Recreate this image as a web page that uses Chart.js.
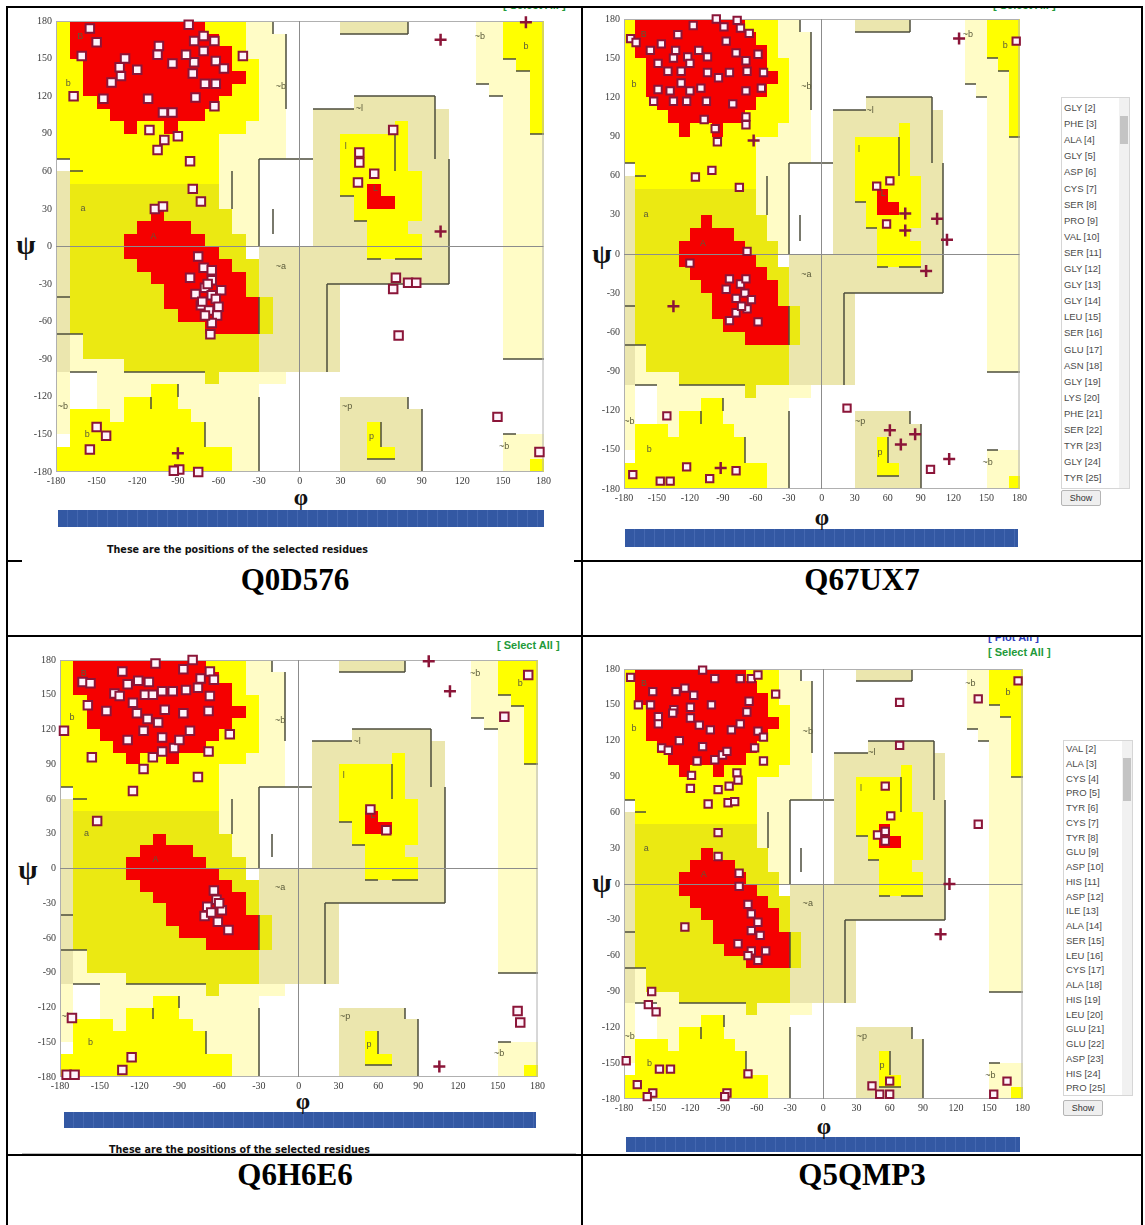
<!DOCTYPE html>
<html>
<head>
<meta charset="utf-8">
<script src="https://cdn.jsdelivr.net/npm/chart.js@4.4.0/dist/chart.umd.min.js"></script>
<style>
  body { margin: 0; background: #fff; }
  #page { position: relative; width: 1145px; height: 1225px; overflow: hidden; font-family: 'Liberation Sans', Arial, sans-serif; }
  .ln { position: absolute; background: #000; }
  .cover { position: absolute; background: #fff; }
  .lbl { position: absolute; font: bold 31px 'Liberation Serif', 'Times New Roman', serif; text-align: center; line-height: 36px; color: #000; }
  .axt { position: absolute; font-family: 'Liberation Serif', 'DejaVu Serif', serif; font-weight: bold; color: #111; text-align: center; }
  .bar { position: absolute; background: repeating-linear-gradient(90deg, #3358a3 0 9px, #4467b0 9px 10px); }
  .note { position: absolute; font: bold 9.6px 'DejaVu Sans', sans-serif; color: #111; white-space: nowrap; }
  .sel { position: absolute; font: bold 11px 'Liberation Sans', Arial, sans-serif; color: #229a3a; white-space: nowrap; }
  .clip { position: absolute; overflow: hidden; }
  .lb { position: absolute; border: 1px solid #d6d6d6; background: #fff; }
  .lb .it { position: absolute; left: 2px; font: 9.5px 'Liberation Sans', Arial, sans-serif; color: #4a4a4a; white-space: nowrap; }
  .lb .sb { position: absolute; right: 0; top: 0; bottom: 0; width: 10px; background: #f1f1f1; }
  .lb .th { position: absolute; right: 1px; width: 8px; background: #c4c4c4; }
  .btn { position: absolute; border: 1px solid #b5b5b5; background: #efefef; border-radius: 2px; font: 9px 'Liberation Sans', Arial, sans-serif; color: #333; text-align: center; }
</style>
</head>
<body>
<div id="page">
  <!-- table rules -->
  <div class="ln" style="left:6px;top:6px;width:1137px;height:2px"></div>
  <div class="ln" style="left:6px;top:560px;width:1137px;height:2px"></div>
  <div class="ln" style="left:6px;top:635px;width:1137px;height:2px"></div>
  <div class="ln" style="left:6px;top:1154px;width:1137px;height:2px"></div>
  <div class="ln" style="left:6px;top:6px;width:2px;height:1230px"></div>
  <div class="ln" style="left:581px;top:6px;width:2px;height:1230px"></div>
  <div class="ln" style="left:1141px;top:6px;width:2px;height:1230px"></div>

  <!-- screenshots that sit over the rules -->
  <div class="cover" style="left:22px;top:8px;width:552px;height:555px"></div>
  <div class="cover" style="left:22px;top:637px;width:554px;height:516px;border-bottom:1px solid #bdbdbd"></div>

  <!-- clipped link text at the top of the first row -->
  <div class="clip" style="left:500px;top:8px;width:76px;height:4px"><div class="sel" style="left:3px;top:-9px">[ Select All ]</div></div>
  <div class="clip" style="left:990px;top:8px;width:76px;height:3px"><div class="sel" style="left:3px;top:-9px">[ Select All ]</div></div>

  <!-- links at the top of the second row -->
  <div class="sel" style="left:497px;top:639px">[ Select All ]</div>
  <div class="clip" style="left:985px;top:637px;width:80px;height:7px"><div class="sel" style="left:3px;top:-6px;color:#2f3fc0">[ Plot All ]</div></div>
  <div class="sel" style="left:988px;top:646px">[ Select All ]</div>

  <!-- sequence bars -->
  <div class="bar" style="left:58px;top:510px;width:486px;height:17px"></div>
  <div class="bar" style="left:625px;top:529px;width:393px;height:18px"></div>
  <div class="bar" style="left:64px;top:1112px;width:472px;height:16px"></div>
  <div class="bar" style="left:626px;top:1137px;width:394px;height:15px"></div>

  <div class="note" style="left:107px;top:544px">These are the positions of the selected residues</div>
  <div class="note" style="left:109px;top:1144px">These are the positions of the selected residues</div>

  <!-- axis symbols -->
  <div class="axt" style="left:286px;top:484px;width:30px;font-size:23px;line-height:28px">φ</div>
  <div class="axt" style="left:807px;top:504px;width:30px;font-size:23px;line-height:28px">φ</div>
  <div class="axt" style="left:288px;top:1088px;width:30px;font-size:23px;line-height:28px">φ</div>
  <div class="axt" style="left:809px;top:1113px;width:30px;font-size:23px;line-height:28px">φ</div>
  <div class="axt" style="left:12px;top:229px;width:28px;font-size:28px;line-height:32px">ψ</div>
  <div class="axt" style="left:588px;top:238px;width:28px;font-size:28px;line-height:32px">ψ</div>
  <div class="axt" style="left:14px;top:854px;width:28px;font-size:28px;line-height:32px">ψ</div>
  <div class="axt" style="left:588px;top:867px;width:28px;font-size:28px;line-height:32px">ψ</div>

  <!-- cell captions -->
  <div class="lbl" style="left:8px;top:562px;width:574px">Q0D576</div>
  <div class="lbl" style="left:583px;top:562px;width:558px">Q67UX7</div>
  <div class="lbl" style="left:8px;top:1157px;width:574px">Q6H6E6</div>
  <div class="lbl" style="left:583px;top:1157px;width:558px">Q5QMP3</div>
</div>

<script>
// ---- axis ticks ----
const angleTicks = [-180, -150, -120, -90, -60, -30, 0, 30, 60, 90, 120, 150, 180];

// ---- region map: [phiFrom, phiTo, psiFrom, psiTo, kind], painted in order ----
const regionColors = { G: '#fffcc6', K: '#ebe6ae', Y: '#ffff00', y: '#ebe912', R: '#f50000', W: '#ffffff' };
const regionRects = [
  // generously allowed, upper left (~b)
  [-180, -20, 170, 180, 'G'], [-180, -10, 70, 170, 'G'],
  // ~b right column
  [130, 180, 130, 180, 'G'], [140, 180, 120, 130, 'G'], [150, 180, -90, 120, 'G'], [150, 180, -180, -150, 'G'],
  // ~a
  [-180, -170, -100, 60, 'K'], [-70, -30, 0, 70, 'G'], [-30, 20, -100, 0, 'K'], [20, 30, -100, -30, 'K'],
  // lower ~b
  [-180, -170, -150, -100, 'G'], [-170, -30, -180, -100, 'G'], [-170, -130, -100, -70, 'G'], [-170, -150, -130, -100, 'W'],
  [-30, 0, -180, -110, 'W'], [-30, -10, -110, -100, 'G'],
  // ~l and ~p
  [10, 110, -30, 110, 'K'], [40, 100, 110, 120, 'K'], [30, 80, 170, 180, 'K'],
  [30, 80, -180, -120, 'K'], [80, 90, -180, -130, 'K'],
  [-30, 10, 0, 70, 'W'],
  // allowed, b region
  [-180, -40, 150, 180, 'Y'], [-180, -30, 100, 150, 'Y'], [-180, -40, 90, 100, 'Y'], [-180, -60, 70, 90, 'Y'], [-170, -60, 50, 70, 'Y'],
  [150, 180, 150, 180, 'Y'], [160, 180, 140, 150, 'Y'], [170, 180, 90, 140, 'Y'], [170, 180, -180, -170, 'Y'],
  [-110, -90, -120, -110, 'Y'], [-130, -90, -130, -120, 'Y'], [-170, -140, -140, -130, 'Y'], [-130, -80, -140, -130, 'Y'],
  [-170, -70, -160, -140, 'Y'], [-180, -50, -180, -160, 'Y'],
  // allowed, a region
  [-170, -60, 30, 50, 'y'], [-170, -50, 10, 30, 'y'], [-170, -40, -10, 10, 'y'], [-170, -30, -40, -10, 'y'],
  [-170, -20, -70, -40, 'y'], [-160, -30, -90, -70, 'y'], [-130, -30, -100, -90, 'y'], [-70, -60, -110, -100, 'y'],
  // allowed, l and p
  [70, 80, 90, 100, 'Y'], [30, 80, 60, 90, 'Y'], [30, 90, 40, 60, 'Y'], [40, 90, 20, 40, 'Y'], [50, 80, 10, 20, 'Y'],
  [50, 90, -10, 10, 'Y'], [50, 60, -170, -140, 'Y'], [60, 70, -170, -160, 'Y'],
  // core B
  [-170, -70, 170, 180, 'R'], [-170, -60, 160, 170, 'R'], [-170, -50, 150, 160, 'R'], [-160, -50, 140, 150, 'R'],
  [-160, -40, 130, 140, 'R'], [-160, -50, 120, 130, 'R'], [-150, -60, 110, 120, 'R'], [-140, -70, 100, 110, 'R'],
  [-130, -120, 90, 100, 'R'], [-100, -90, 90, 100, 'R'],
  // core A
  [-110, -100, 20, 30, 'R'], [-120, -80, 10, 20, 'R'], [-130, -70, 0, 10, 'R'], [-130, -60, -10, 0, 'R'],
  [-120, -50, -20, -10, 'R'], [-110, -40, -30, -20, 'R'], [-100, -40, -40, -30, 'R'], [-100, -30, -50, -40, 'R'],
  [-90, -30, -60, -50, 'R'], [-70, -30, -70, -60, 'R'],
  // core L
  [50, 60, 30, 50, 'R'], [60, 70, 30, 40, 'R']
];
// short dark boundary strokes: [phi1, psi1, phi2, psi2]
const regionEdges = [
  [-20, 180, -20, 170], [-10, 170, -10, 110], [-30, 70, 10, 70], [-30, 70, -30, 0], [-50, 60, -50, 30],
  [-180, 70, -170, 70], [-170, 60, -160, 60], [-180, -40, -170, -40], [-180, -70, -160, -70],
  [40, 120, 100, 120], [10, 110, 40, 110], [100, 120, 100, 70], [110, 70, 110, -30], [20, -30, 110, -30],
  [70, 90, 70, 60], [30, 40, 40, 40], [40, 20, 50, 20], [50, -10, 60, -10], [70, -10, 90, -10],
  [30, 170, 80, 170], [80, 180, 80, 170],
  [150, 150, 160, 150], [160, 140, 170, 140], [130, 130, 140, 130], [140, 120, 150, 120], [170, 90, 180, 90],
  [150, -90, 180, -90], [150, -150, 160, -150],
  [80, -120, 80, -130], [90, -130, 90, -180], [60, -140, 60, -160], [50, -170, 70, -170],
  [-30, -120, -30, -180], [-70, -140, -70, -160], [-110, -120, -110, -130], [-90, -110, -90, -120],
  [-130, -100, -70, -100], [-170, -100, -150, -100], [-30, -40, -30, -70], [20, -30, 20, -100], [-20, 30, -20, 10]
];
const regionLabels = [
  ['B', -162, 168], ['b', -171, 130], ['A', -108, 8], ['a', -160, 30], ['L', 56, 46], ['l', 34, 80],
  ['~b', -14, 128], ['~a', -14, -16], ['~l', 44, 110], ['~b', 133, 168], ['b', 167, 160],
  ['~b', -175, -128], ['b', -157, -150], ['~p', 35, -128], ['p', 53, -152], ['~b', 151, -160]
];

// ---- residues [phi, psi] ----
const q0d576Res = [
  [-82, 177], [-155, 174], [-150, 163], [-161, 152], [-104, 160], [-105, 153], [-94, 146], [-78, 164], [-71, 168],
  [-63, 164], [-71, 156], [-62, 148], [-56, 142], [-78, 147], [-84, 153], [-79, 138], [-70, 130], [-62, 130],
  [-42, 152], [-129, 150], [-133, 143], [-120, 141], [-139, 131], [-132, 136], [-145, 118], [-112, 118], [-77, 119],
  [-63, 112], [-101, 107], [-94, 107], [-167, 120], [-111, 93], [-100, 85], [-105, 77], [-90, 88], [-81, 68],
  [-79, 46], [-73, 36], [-107, 30], [-101, 32],
  [-75, -8], [-71, -17], [-65, -19], [-81, -25], [-65, -27], [-70, -33], [-58, -35], [-77, -38], [-65, -39],
  [-73, -47], [-67, -51], [-61, -55], [-65, -61], [-66, -70], [-68, -30], [-62, -42], [-72, -44], [-60, -48], [-70, -55],
  [69, 93], [44, 75], [44, 67], [55, 58], [43, 51], [71, -25], [80, -29], [86, -29], [69, -34], [73, -71],
  [146, -136], [177, -164], [-150, -144], [-143, -151], [-155, -162], [-89, -178], [-75, -180], [-93, -179]
];
const q0d576Gly = [[167, 179], [104, 165], [104, 12], [-90, -165]];

const q67ux7Res = [
  [-96, 180], [-77, 179], [-89, 174], [-74, 173], [-66, 169], [-174, 165], [-169, 162], [-131, 168], [-117, 175],
  [-146, 161], [-156, 156], [-133, 156], [-135, 150], [-122, 151], [-112, 156], [-104, 151], [-87, 163], [-78, 154],
  [-69, 148], [-58, 153], [-149, 146], [-140, 140], [-128, 140], [-120, 146], [-104, 139], [-94, 135], [-84, 139],
  [-68, 140], [-53, 139], [-149, 126], [-138, 125], [-128, 131], [-120, 125], [-110, 127], [-153, 117], [-135, 117],
  [-123, 117], [-105, 117], [-81, 115], [-69, 125], [-55, 127], [-107, 103], [-69, 105], [-69, 99], [-97, 96], [-95, 86],
  [-115, 59], [-100, 64], [-75, 51],
  [-68, 2], [-120, -7], [-84, -19], [-74, -23], [-69, -19], [-87, -27], [-84, -51], [-78, -45], [-68, -42], [-58, -52],
  [-73, -40], [-70, -30], [-64, -35], [-78, -34],
  [50, 52], [62, 56], [59, 23], [177, 163],
  [23, -118], [-141, -124], [-172, -169], [-147, -174], [-138, -174], [-123, -163], [-102, -172], [-78, -166], [99, -165]
];
const q67ux7Gly = [[-62, 87], [125, 165], [76, 31], [105, 27], [76, 18], [114, 11], [95, -13], [-135, -40],
  [-92, -164], [62, -135], [72, -146], [85, -138], [116, -157]];

const q6h6e6Res = [
  [-80, 180], [-108, 177], [-67, 170], [-133, 170], [-163, 161], [-157, 160], [-87, 172], [-74, 164], [-64, 163],
  [-139, 151], [-135, 149], [-129, 159], [-121, 162], [-113, 161], [-103, 153], [-95, 153], [-85, 154], [-76, 156],
  [-67, 149], [-125, 143], [-116, 150], [-110, 150], [-122, 134], [-114, 129], [-106, 126], [-101, 137], [-87, 134],
  [-68, 136], [-159, 141], [-145, 136], [-117, 119], [-103, 113], [-94, 104], [-90, 111], [-82, 119], [-129, 111],
  [-110, 96], [-103, 101], [-68, 101], [-52, 116], [-156, 96], [-117, 86], [-76, 79], [-125, 67], [-152, 41], [-177, 119],
  [54, 51], [66, 33],
  [-64, -19], [-62, -27], [-69, -33], [-58, -36], [-71, -41], [-61, -46], [-53, -53], [-66, -38], [-60, -30],
  [173, 167], [155, 131],
  [-171, -129], [-175, -178], [-169, -178], [-133, -174], [-126, -163], [165, -123], [167, -133]
];
const q6h6e6Gly = [[98, 179], [114, 153], [106, -171]];

const q5qmp3Res = [
  [-174, 173], [-109, 179], [-98, 172], [-75, 172], [-65, 172], [-59, 175], [-154, 161], [-133, 161], [-125, 164],
  [-117, 158], [-101, 150], [-120, 148], [-135, 146], [-156, 150], [-167, 150], [-67, 153], [-43, 159], [-149, 140],
  [-149, 134], [-136, 143], [-120, 139], [-112, 133], [-102, 129], [-83, 129], [-75, 134], [-69, 144], [-59, 128],
  [-54, 123], [-130, 120], [-146, 114], [-140, 112], [-109, 115], [-98, 104], [-91, 108], [-87, 111], [-62, 114],
  [-54, 103], [-114, 103], [-119, 91], [-78, 93], [-120, 80], [-95, 79], [-85, 82], [-77, 87], [-104, 67], [-86, 68],
  [-80, 69], [-95, 43], [-95, 23], [-76, 9], [-76, -2], [-125, -36],
  [-68, -17], [-65, -25], [-59, -32], [-65, -39], [-57, -43], [-77, -50], [-65, -56], [-52, -56], [-59, -64], [-68, -60],
  [-155, -90], [-158, -101], [-151, -107], [-178, -148], [-148, -155], [-138, -155], [-68, -159], [-168, -168],
  [-154, -175], [-159, -178], [-87, -175], [-89, -178], [44, -169], [60, -165], [60, -176], [51, -176], [166, -165], [154, -176],
  [69, 152], [69, 116], [140, 155], [176, 170], [56, 82], [61, 57], [49, 41], [56, 44], [56, 36], [140, 50]
];
const q5qmp3Gly = [[114, 0], [106, -42]];

// ---- residue pick lists ----
const listQ67UX7 = ['GLY [2]', 'PHE [3]', 'ALA [4]', 'GLY [5]', 'ASP [6]', 'CYS [7]', 'SER [8]', 'PRO [9]', 'VAL [10]',
  'SER [11]', 'GLY [12]', 'GLY [13]', 'GLY [14]', 'LEU [15]', 'SER [16]', 'GLU [17]', 'ASN [18]', 'GLY [19]',
  'LYS [20]', 'PHE [21]', 'SER [22]', 'TYR [23]', 'GLY [24]', 'TYR [25]'];
const listQ5QMP3 = ['VAL [2]', 'ALA [3]', 'CYS [4]', 'PRO [5]', 'TYR [6]', 'CYS [7]', 'TYR [8]', 'GLU [9]', 'ASP [10]',
  'HIS [11]', 'ASP [12]', 'ILE [13]', 'ALA [14]', 'SER [15]', 'LEU [16]', 'CYS [17]', 'ALA [18]', 'HIS [19]',
  'LEU [20]', 'GLU [21]', 'GLU [22]', 'ASP [23]', 'HIS [24]', 'PRO [25]'];

const page = document.getElementById('page');
const AXW = 36, AXH = 16, PT = 8, PR = 10;
const MARK = '#8b1538';

// paints the Ramachandran regions under the scales
const regionPlugin = {
  id: 'regions',
  beforeDraw(chart) {
    const { ctx, chartArea: a } = chart;
    const x = chart.scales.x, y = chart.scales.y;
    ctx.save();
    ctx.fillStyle = '#fff';
    ctx.fillRect(a.left, a.top, a.width, a.height);
    regionRects.forEach(([p1, p2, s1, s2, k]) => {
      const X1 = Math.round(x.getPixelForValue(p1)), X2 = Math.round(x.getPixelForValue(p2));
      const Y1 = Math.round(y.getPixelForValue(s2)), Y2 = Math.round(y.getPixelForValue(s1));
      ctx.fillStyle = regionColors[k];
      ctx.fillRect(X1, Y1, X2 - X1, Y2 - Y1);
    });
    // boundary strokes
    ctx.strokeStyle = '#4d4d3c';
    ctx.lineWidth = 1.5;
    ctx.beginPath();
    regionEdges.forEach(([p1, s1, p2, s2]) => {
      ctx.moveTo(Math.round(x.getPixelForValue(p1)), Math.round(y.getPixelForValue(s1)));
      ctx.lineTo(Math.round(x.getPixelForValue(p2)), Math.round(y.getPixelForValue(s2)));
    });
    ctx.stroke();
    ctx.font = '9px "Liberation Sans", Arial, sans-serif';
    ctx.fillStyle = '#5a5a3a';
    ctx.textAlign = 'center';
    ctx.textBaseline = 'middle';
    regionLabels.forEach(([t, p, s]) => ctx.fillText(t, x.getPixelForValue(p), y.getPixelForValue(s)));
    ctx.strokeStyle = '#b0b0b0';
    ctx.lineWidth = 1;
    ctx.strokeRect(a.left + 0.5, a.top + 0.5, a.width - 1, a.height - 1);
    ctx.restore();
  }
};

function angleAxis(isX) {
  return {
    type: 'linear', min: -180, max: 180,
    afterBuildTicks: s => { s.ticks = angleTicks.map(v => ({ value: v })); },
    ticks: { font: { family: 'Liberation Serif', size: 10 }, color: '#3a3a3a', padding: isX ? 3 : 4, maxRotation: 0, autoSkip: false },
    grid: { color: c => (c.tick && c.tick.value === 0) ? '#8c8c8c' : 'rgba(0,0,0,0)', drawTicks: false, lineWidth: 1 },
    border: { display: false },
    afterFit: s => { if (isX) s.height = AXH; else s.width = AXW; }
  };
}

function makePlot(box, res, gly, r) {
  const [x0, y0, x1, y1] = box;
  const cv = document.createElement('canvas');
  cv.width = x1 - x0 + AXW + PR;
  cv.height = y1 - y0 + PT + AXH;
  cv.style.cssText = `position:absolute;left:${x0 - AXW}px;top:${y0 - PT}px;`;
  page.appendChild(cv);
  new Chart(cv.getContext('2d'), {
    type: 'scatter',
    data: {
      datasets: [
        { data: res.map(([p, s]) => ({ x: p, y: s })), pointStyle: 'rect', pointRadius: r,
          backgroundColor: '#fff3fb', borderColor: MARK, borderWidth: 2, clip: false },
        { data: gly.map(([p, s]) => ({ x: p, y: s })), pointStyle: 'cross', pointRadius: 6,
          borderColor: MARK, borderWidth: 2.5, clip: false }
      ]
    },
    options: {
      responsive: false, animation: false, devicePixelRatio: 1,
      layout: { autoPadding: false, padding: { left: 0, top: PT, right: PR, bottom: 0 } },
      scales: { x: angleAxis(true), y: angleAxis(false) },
      plugins: { legend: { display: false }, tooltip: { enabled: false } }
    },
    plugins: [regionPlugin]
  });
}

function makeList(items, left, top, w, h, firstY, step, thumbTop, thumbH, btnTop) {
  const lb = document.createElement('div');
  lb.className = 'lb';
  lb.style.cssText = `left:${left}px;top:${top}px;width:${w}px;height:${h}px`;
  items.forEach((t, i) => {
    const d = document.createElement('div');
    d.className = 'it';
    d.textContent = t;
    d.style.top = (firstY + i * step - top - 6) + 'px';
    lb.appendChild(d);
  });
  const sb = document.createElement('div');
  sb.className = 'sb';
  lb.appendChild(sb);
  const th = document.createElement('div');
  th.className = 'th';
  th.style.cssText = `top:${thumbTop - top}px;height:${thumbH}px`;
  lb.appendChild(th);
  page.appendChild(lb);
  const b = document.createElement('div');
  b.className = 'btn';
  b.textContent = 'Show';
  b.style.cssText = `left:${left}px;top:${btnTop}px;width:38px;height:14px;line-height:14px`;
  page.appendChild(b);
}

makePlot([56, 19, 544, 472], q0d576Res, q0d576Gly, 6);
makePlot([624, 17, 1020, 489], q67ux7Res, q67ux7Gly, 5.2);
makePlot([60, 658, 538, 1077], q6h6e6Res, q6h6e6Gly, 6);
makePlot([624, 667, 1023, 1099], q5qmp3Res, q5qmp3Gly, 5.2);

makeList(listQ67UX7, 1061, 97, 67, 390, 107, 16.1, 115, 28, 490);
makeList(listQ5QMP3, 1063, 740, 68, 354, 748, 14.75, 757, 43, 1100);
</script>
</body>
</html>
